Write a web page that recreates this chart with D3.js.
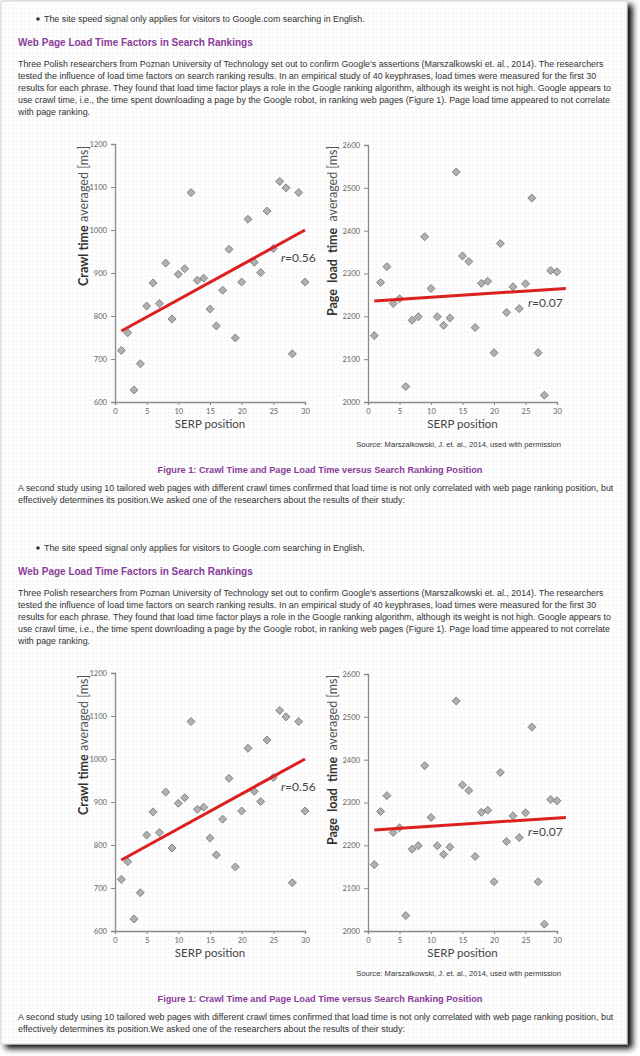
<!DOCTYPE html>
<html><head><meta charset="utf-8">
<script src="https://cdn.jsdelivr.net/npm/d3@7"></script>
<style>
html,body{margin:0;padding:0;background:#fff;}
svg{display:block;}
</style></head>
<body>
<script>
// ---------- DATA ----------
const serpPositions = d3.range(1, 31);
const crawlTime = [720,761,628,689,823,877,829,923,793,897,910,1087,883,888,816,777,860,955,749,879,1025,925,901,1044,957,1113,1098,712,1087,879];
const pageLoadTime = [2155,2279,2316,2230,2241,2036,2191,2199,2386,2265,2199,2179,2196,2537,2341,2328,2174,2277,2282,2115,2370,2209,2269,2218,2276,2476,2115,2016,2307,2304];
const crawlTrend = [[1,765],[30,1000]];
const loadTrend = [[1,2236],[31.4,2265]];
const xTicks = [0,5,10,15,20,25,30];
const crawlTicks = [600,700,800,900,1000,1100,1200];
const loadTicks = [2000,2100,2200,2300,2400,2500,2600];
const crawlR = "0.56";
const loadR = "0.07";

const bulletText = "The site speed signal only applies for visitors to Google.com searching in English.";
const headingText = "Web Page Load Time Factors in Search Rankings";
const paraLines = [
 "Three Polish researchers from Poznan University of Technology set out to confirm Google's assertions (Marszalkowski et. al., 2014). The researchers",
 "tested the influence of load time factors on search ranking results. In an empirical study of 40 keyphrases, load times were measured for the first 30",
 "results for each phrase. They found that load time factor plays a role in the Google ranking algorithm, although its weight is not high. Google appears to",
 "use crawl time, i.e., the time spent downloading a page by the Google robot, in ranking web pages (Figure 1). Page load time appeared to not correlate",
 "with page ranking."
];
const sourceText = "Source: Marszalkowski, J. et. al., 2014, used with permission";
const captionText = "Figure 1: Crawl Time and Page Load Time versus Search Ranking Position";
const para2Lines = [
 "A second study using 10 tailored web pages with different crawl times confirmed that load time is not only correlated with web page ranking position, but",
 "effectively determines its position.We asked one of the researchers about the results of their study:"
];

// ---------- DRAW ----------
const W = 640, H = 1056;
const svg = d3.select("body").append("svg").attr("width", W).attr("height", H);
const defs = svg.append("defs");
const pat = defs.append("pattern").attr("id","tex").attr("width",4).attr("height",4).attr("patternUnits","userSpaceOnUse");
pat.append("rect").attr("width",4).attr("height",4).attr("fill","#ffffff");
pat.append("path").attr("d","M0,0.5H4M0.5,0V4").attr("stroke","#f8f8f8").attr("stroke-width",1);
const flt = defs.append("filter").attr("id","shadow").attr("x","-5%").attr("y","-5%").attr("width","115%").attr("height","115%");
flt.append("feGaussianBlur").attr("in","SourceAlpha").attr("stdDeviation",3);
flt.append("feOffset").attr("dx",5).attr("dy",4).attr("result","ob");
const ft = flt.append("feComponentTransfer");
ft.append("feFuncA").attr("type","linear").attr("slope",1);
const fm = flt.append("feMerge");
fm.append("feMergeNode");
fm.append("feMergeNode").attr("in","SourceGraphic");

svg.append("rect").attr("x",1).attr("y",1).attr("width",626).attr("height",1043)
  .attr("fill","url(#tex)").attr("stroke","#d0d0d0").attr("stroke-width",1).attr("filter","url(#shadow)");

const bodyFont = "'Liberation Sans', Arial, sans-serif";
const chartFont = "Lato, 'Open Sans', sans-serif";
const purple = "#8a3b9a";
const bodySize = 8.9;

function section(offset) {
  const g = svg.append("g").attr("transform", `translate(0,${offset})`);
  g.append("circle").attr("cx",38).attr("cy",19).attr("r",1.8).attr("fill","#333");
  g.append("text").attr("x",44).attr("y",22).attr("font-family",bodyFont).attr("font-size",bodySize)
    .attr("fill","#333").text(bulletText);
  g.append("text").attr("x",18).attr("y",45.5).attr("font-family",bodyFont).attr("font-size",10)
    .attr("font-weight","bold").attr("fill",purple).text(headingText);
  g.selectAll("text.p1").data(paraLines).join("text").attr("class","p1")
    .attr("x",18).attr("y",(d,i)=>67+i*11.9).attr("font-family",bodyFont).attr("font-size",bodySize)
    .attr("fill","#333").text(d=>d);

  drawChart(g, {x0:115, x1:305, y0:402, y1:144, domain:[600,1200], ticks:crawlTicks,
    data: crawlTime, trend: crawlTrend, r: crawlR, rx: 281, ry: 262,
    titleBold: "Crawl time", titleRest: " averaged [ms]", titleX: 88, titleBottom: 286, titleLen: 140});
  drawChart(g, {x0:368, x1:557, y0:402, y1:145, domain:[2000,2600], ticks:loadTicks,
    data: pageLoadTime, trend: loadTrend, r: loadR, rx: 528, ry: 307,
    titleBold: "Page  load  time", titleRest: "  averaged [ms]", titleX: 337, titleBottom: 316, titleLen: 170});

  g.append("text").attr("x",561).attr("y",447).attr("text-anchor","end").attr("font-family",bodyFont)
    .attr("font-size",7.6).attr("fill","#333").text(sourceText);
  g.append("text").attr("x",320).attr("y",473).attr("text-anchor","middle").attr("font-family",bodyFont)
    .attr("font-size",9.2).attr("font-weight","bold").attr("fill",purple).text(captionText);
  g.selectAll("text.p2").data(para2Lines).join("text").attr("class","p2")
    .attr("x",18).attr("y",(d,i)=>491+i*11.9).attr("font-family",bodyFont).attr("font-size",bodySize)
    .attr("fill","#333").text(d=>d);
}

function drawChart(g, o) {
  const x = d3.scaleLinear().domain([0,30]).range([o.x0,o.x1]);
  const y = d3.scaleLinear().domain(o.domain).range([o.y0,o.y1]);
  const axisColor = "#8a8a8a";
  const yAxis = g.append("g").attr("transform",`translate(${o.x0},0)`)
    .call(d3.axisLeft(y).tickValues(o.ticks).tickSize(4).tickPadding(4).tickFormat(d3.format("d")));
  const xAxis = g.append("g").attr("transform",`translate(0,${o.y0})`)
    .call(d3.axisBottom(x).tickValues(xTicks).tickSize(3).tickPadding(4).tickFormat(d3.format("d")));
  [yAxis,xAxis].forEach(a=>{
    a.select(".domain").attr("stroke",axisColor).attr("stroke-width",1.3);
    a.selectAll(".tick line").attr("stroke",axisColor).attr("stroke-width",1);
    a.selectAll(".tick text").attr("fill","#666").attr("font-family",chartFont).attr("font-size",7.6);
  });
  const sym = d3.symbol().type(d3.symbolSquare).size(32);
  g.append("g").selectAll("path").data(o.data).join("path")
    .attr("d", sym)
    .attr("transform",(d,i)=>`translate(${x(serpPositions[i])},${y(d)}) rotate(45)`)
    .attr("fill","#b0b0b0").attr("stroke","#767676").attr("stroke-width",0.8);
  g.append("path").datum(o.trend)
    .attr("d", d3.line().x(d=>x(d[0])).y(d=>y(d[1])))
    .attr("stroke","#dc1f1f").attr("stroke-width",3).attr("fill","none");
  const rt = g.append("text").attr("x",o.rx).attr("y",o.ry).attr("font-family",chartFont)
    .attr("font-size",12).attr("fill","#444");
  rt.append("tspan").attr("font-style","italic").text("r");
  rt.append("tspan").text("=" + o.r);
  g.append("text").attr("x",(o.x0+o.x1)/2).attr("y",o.y0+26).attr("text-anchor","middle")
    .attr("font-family",chartFont).attr("font-size",11.5).attr("fill","#444").text("SERP position");
  const t = g.append("text").attr("transform",`translate(${o.titleX},${o.titleBottom}) rotate(-90)`)
    .attr("font-family",chartFont).attr("font-size",12.5).attr("fill","#333")
    .attr("textLength",o.titleLen).attr("lengthAdjust","spacing").style("white-space","pre");
  t.append("tspan").attr("font-weight","bold").text(o.titleBold);
  t.append("tspan").attr("fill","#555").text(o.titleRest);
}

section(0);
section(529);
</script>
</body></html>
